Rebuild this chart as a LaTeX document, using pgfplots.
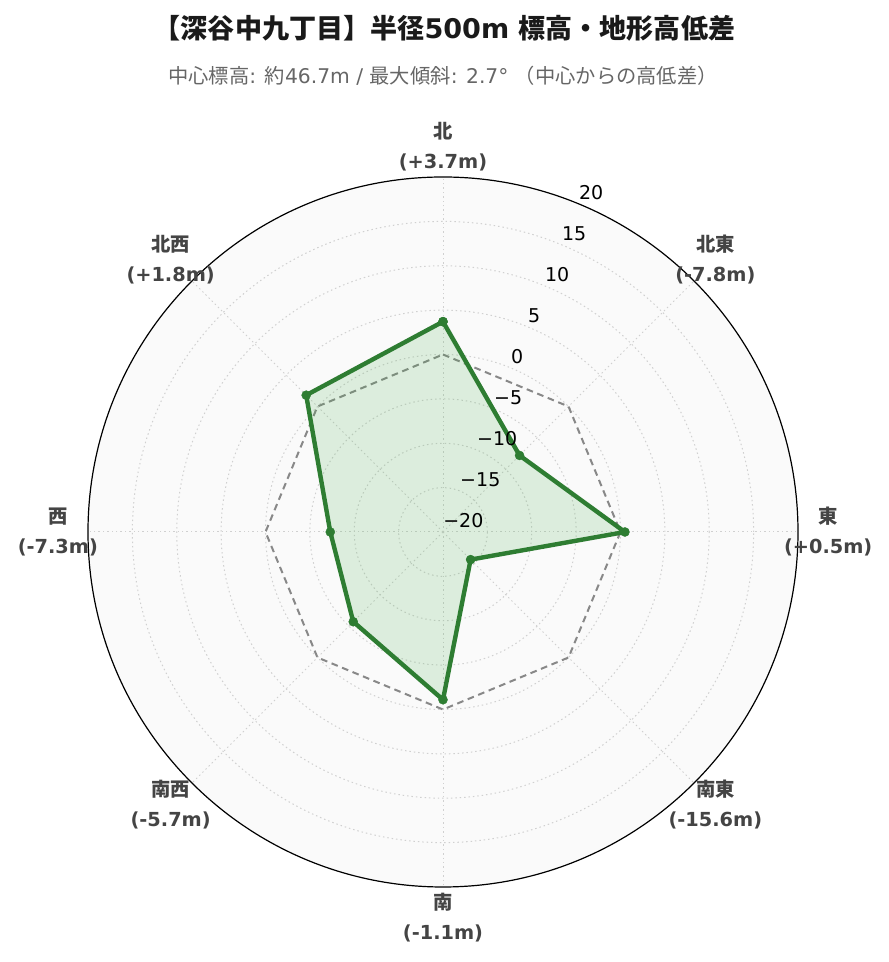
\documentclass[border=0pt]{standalone}
\usepackage{pgfplots}
\pgfplotsset{compat=1.18}
\usepackage{pgfplotstable}
\usepackage{fontspec}
\setmainfont{DejaVu Sans}
\newfontfamily\cjk{Noto Sans CJK JP}
\definecolor{grn}{HTML}{2E7D32}
\definecolor{fillc}{HTML}{4CAF50}
\definecolor{bgc}{HTML}{FAFAFA}
\definecolor{gridc}{HTML}{D0D0D0}
\definecolor{refc}{HTML}{888888}
\definecolor{lblc}{HTML}{444444}
\definecolor{subc}{HTML}{666666}
\definecolor{ttlc}{HTML}{1A1A1A}

% direction angle (math degrees), elevation difference (m)
\pgfplotstableread{
ang val
90 3.7
45 -7.8
0 0.5
-45 -15.6
-90 -1.1
-135 -5.7
180 -7.3
135 1.8
90 3.7
}\elev

\pgfplotstableread{
ang val
90 0
45 0
0 0
-45 0
-90 0
-135 0
180 0
135 0
90 0
}\zero

\begin{document}
\begin{tikzpicture}
\begin{axis}[
  scale only axis, width=666.75pt, height=721.5pt,
  xmin=-49.915, xmax=50.254, ymin=-48.451, ymax=59.944,
  hide axis, clip=false,
]
\path (axis cs:-49.915,-48.451) rectangle (axis cs:50.254,59.944);
\fill[bgc] (axis cs:0,0) circle[radius=40];
\pgfplotsinvokeforeach{5,10,15,20,25,30,35}{
  \draw[gridc, line width=0.75pt, dash pattern=on 1.1pt off 2.2pt] (axis cs:0,0) circle[radius=#1];
}
\pgfplotsinvokeforeach{0,45,90,135,180,225,270,315}{
  \draw[gridc, line width=0.75pt, dash pattern=on 1.1pt off 2.2pt] (axis cs:0,0) -- (axis cs:{40*cos(#1)},{40*sin(#1)});
}
\draw[black, line width=0.9pt] (axis cs:0,0) circle[radius=40];

% reference (0 m)
\addplot[refc, line width=1.5pt, dash pattern=on 5pt off 3.5pt]
  table[x expr={(\thisrow{val}+20)*cos(\thisrow{ang})}, y expr={(\thisrow{val}+20)*sin(\thisrow{ang})}] {\zero};

% filled area
\addplot[draw=none, fill=fillc, fill opacity=0.17]
  table[x expr={(\thisrow{val}+20)*cos(\thisrow{ang})}, y expr={(\thisrow{val}+20)*sin(\thisrow{ang})}] {\elev};
% line + markers
\addplot[grn, line width=3.3pt, line join=round, mark=*, mark size=3.4pt,
  mark options={solid, fill=grn, draw=grn, line width=0.3pt}]
  table[x expr={(\thisrow{val}+20)*cos(\thisrow{ang})}, y expr={(\thisrow{val}+20)*sin(\thisrow{ang})}] {\elev};

% radial tick labels
\node[anchor=west, yshift=8.5pt, inner sep=0pt, font=\fontsize{14.25}{16}\selectfont] at (axis cs:{0*cos(67.5)},{0*sin(67.5)}) {−20};
\node[anchor=west, yshift=8.5pt, inner sep=0pt, font=\fontsize{14.25}{16}\selectfont] at (axis cs:{5*cos(67.5)},{5*sin(67.5)}) {−15};
\node[anchor=west, yshift=8.5pt, inner sep=0pt, font=\fontsize{14.25}{16}\selectfont] at (axis cs:{10*cos(67.5)},{10*sin(67.5)}) {−10};
\node[anchor=west, yshift=8.5pt, inner sep=0pt, font=\fontsize{14.25}{16}\selectfont] at (axis cs:{15*cos(67.5)},{15*sin(67.5)}) {−5};
\node[anchor=west, yshift=8.5pt, inner sep=0pt, font=\fontsize{14.25}{16}\selectfont] at (axis cs:{20*cos(67.5)},{20*sin(67.5)}) {0};
\node[anchor=west, yshift=8.5pt, inner sep=0pt, font=\fontsize{14.25}{16}\selectfont] at (axis cs:{25*cos(67.5)},{25*sin(67.5)}) {5};
\node[anchor=west, yshift=8.5pt, inner sep=0pt, font=\fontsize{14.25}{16}\selectfont] at (axis cs:{30*cos(67.5)},{30*sin(67.5)}) {10};
\node[anchor=west, yshift=8.5pt, inner sep=0pt, font=\fontsize{14.25}{16}\selectfont] at (axis cs:{35*cos(67.5)},{35*sin(67.5)}) {15};
\node[anchor=west, yshift=8.5pt, inner sep=0pt, font=\fontsize{14.25}{16}\selectfont] at (axis cs:{40*cos(67.5)},{40*sin(67.5)}) {20};

% angular labels
\node[align=center, text=lblc, font=\bfseries\fontsize{14.5}{22.5}\selectfont] at (axis cs:{43.4*cos(90)},{43.4*sin(90)}) {{\cjk\bfseries 北}\\(+3.7m)};
\node[align=center, text=lblc, font=\bfseries\fontsize{14.5}{22.5}\selectfont] at (axis cs:{43.4*cos(45)},{43.4*sin(45)}) {{\cjk\bfseries 北東}\\(-7.8m)};
\node[align=center, text=lblc, font=\bfseries\fontsize{14.5}{22.5}\selectfont] at (axis cs:{43.4*cos(0)},{43.4*sin(0)}) {{\cjk\bfseries 東}\\(+0.5m)};
\node[align=center, text=lblc, font=\bfseries\fontsize{14.5}{22.5}\selectfont] at (axis cs:{43.4*cos(-45)},{43.4*sin(-45)}) {{\cjk\bfseries 南東}\\(-15.6m)};
\node[align=center, text=lblc, font=\bfseries\fontsize{14.5}{22.5}\selectfont] at (axis cs:{43.4*cos(-90)},{43.4*sin(-90)}) {{\cjk\bfseries 南}\\(-1.1m)};
\node[align=center, text=lblc, font=\bfseries\fontsize{14.5}{22.5}\selectfont] at (axis cs:{43.4*cos(-135)},{43.4*sin(-135)}) {{\cjk\bfseries 南西}\\(-5.7m)};
\node[align=center, text=lblc, font=\bfseries\fontsize{14.5}{22.5}\selectfont] at (axis cs:{43.4*cos(180)},{43.4*sin(180)}) {{\cjk\bfseries 西}\\(-7.3m)};
\node[align=center, text=lblc, font=\bfseries\fontsize{14.5}{22.5}\selectfont] at (axis cs:{43.4*cos(135)},{43.4*sin(135)}) {{\cjk\bfseries 北西}\\(+1.8m)};

% titles
\node[text=ttlc, font=\bfseries\fontsize{20.3}{24}\selectfont] at (axis cs:0.17,56.8)
  {{\cjk\bfseries 【深谷中九丁目】半径}500m {\cjk\bfseries 標高・地形高低差}};
\node[text=subc, font=\fontsize{15.2}{18}\selectfont] at (axis cs:0,51.4)
  {{\cjk 中心標高}: {\cjk 約}46.7m / {\cjk 最大傾斜}: 2.7° {\cjk （中心からの高低差）}};
\end{axis}
\end{tikzpicture}
\end{document}
